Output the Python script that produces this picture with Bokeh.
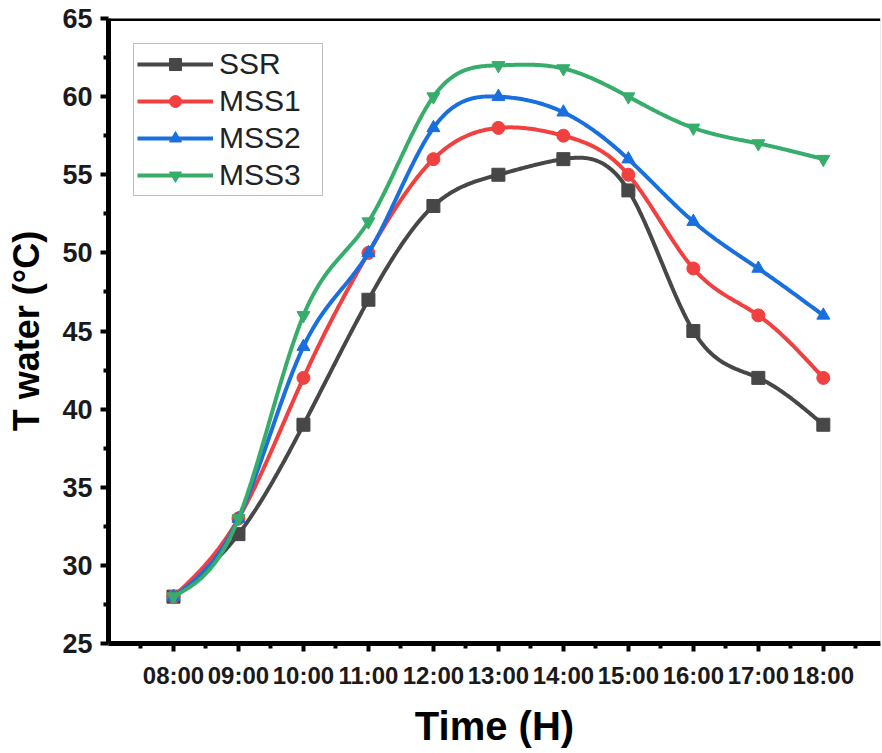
import numpy as np
from bokeh.plotting import figure
from bokeh.models import (FixedTicker, Span, Legend, LegendItem, Range1d)
from bokeh.embed import file_html
from bokeh.resources import INLINE

# ---- data ----
times = ["08:00", "09:00", "10:00", "11:00", "12:00", "13:00",
         "14:00", "15:00", "16:00", "17:00", "18:00"]
ssr = [28, 32, 39, 47, 53, 55, 56, 54, 45, 42, 39]
mss1 = [28, 33, 42, 50, 56, 58, 57.5, 55, 49, 46, 42]
mss2 = [28, 33, 44, 50, 58, 60, 59, 56, 52, 49, 46]
mss3 = [28, 33, 46, 52, 60, 62, 61.8, 60, 58, 57, 56]
y_ticks = [25, 30, 35, 40, 45, 50, 55, 60, 65]

series = [
    ("SSR", ssr, "#474747", "square"),
    ("MSS1", mss1, "#F14040", "circle"),
    ("MSS2", mss2, "#1A6FDF", "triangle"),
    ("MSS3", mss3, "#37AD6B", "inverted_triangle"),
]


def natural_spline(x, y, n=40):
    x = np.asarray(x, float)
    y = np.asarray(y, float)
    k = len(x)
    h = np.diff(x)
    A = np.zeros((k, k))
    b = np.zeros(k)
    A[0, 0] = 1
    A[-1, -1] = 1
    for i in range(1, k - 1):
        A[i, i - 1] = h[i - 1]
        A[i, i] = 2 * (h[i - 1] + h[i])
        A[i, i + 1] = h[i]
        b[i] = 6 * ((y[i + 1] - y[i]) / h[i] - (y[i] - y[i - 1]) / h[i - 1])
    M = np.linalg.solve(A, b)
    xs, ys = [], []
    for i in range(k - 1):
        t = np.linspace(x[i], x[i + 1], n, endpoint=(i == k - 2))
        a = x[i + 1] - t
        c = t - x[i]
        s = (M[i] * a ** 3 + M[i + 1] * c ** 3) / (6 * h[i]) \
            + (y[i] / h[i] - M[i] * h[i] / 6) * a \
            + (y[i + 1] / h[i] - M[i + 1] * h[i] / 6) * c
        xs.extend(t)
        ys.extend(s)
    return xs, ys


xpos = list(range(len(times)))
x_start, x_end = -1, 10.88
y_min, y_max = y_ticks[0], y_ticks[-1]

p = figure(frame_width=772, frame_height=625,
           x_range=Range1d(x_start, x_end), y_range=Range1d(y_min, y_max),
           output_backend="svg", toolbar_location=None,
           min_border_left=108, min_border_top=18, min_border_right=2,
           min_border_bottom=110)
p.outline_line_color = None
p.xgrid.visible = False
p.ygrid.visible = False
p.background_fill_color = "white"

FONT = "Liberation Sans"

# axes
for ax in (p.xaxis[0], p.yaxis[0]):
    ax.axis_line_width = 5
    ax.axis_line_color = "black"
    ax.major_tick_line_width = 4
    ax.major_tick_in = 0
    ax.major_tick_out = 8
    ax.minor_tick_line_width = 4
    ax.minor_tick_in = 0
    ax.minor_tick_out = 5
    ax.major_label_text_font = FONT
    ax.major_label_text_font_style = "bold"
    ax.major_label_text_color = "#1a1a1a"
    ax.axis_label_text_font = FONT
    ax.axis_label_text_font_style = "bold"
    ax.axis_label_text_color = "black"

p.xaxis.ticker = FixedTicker(ticks=xpos,
                             minor_ticks=[i - 0.5 for i in range(len(times) + 1)])
p.xaxis.major_label_overrides = {i: t for i, t in enumerate(times)}
p.xaxis.major_label_text_font_size = "24px"
p.xaxis.major_label_standoff = 10
p.xaxis.axis_label = "Time (H)"
p.xaxis.axis_label_text_font_size = "40px"
p.xaxis.axis_label_standoff = 12

p.yaxis.ticker = FixedTicker(ticks=y_ticks,
                             minor_ticks=[v + 2.5 for v in y_ticks[:-1]])
p.yaxis.major_label_text_font_size = "27px"
p.yaxis.major_label_standoff = 8
p.yaxis.axis_label = "T water (°C)"
p.yaxis.axis_label_text_font_size = "36px"
p.yaxis.axis_label_standoff = 12

# top and right frame borders
p.add_layout(Span(location=y_max, dimension="width", line_color="black", line_width=5))
p.add_layout(Span(location=x_end, dimension="height", line_color="#d8d8d8", line_width=1))

items = []
for name, vals, color, marker in series:
    sx, sy = natural_spline(xpos, vals)
    ln = p.line(sx, sy, line_color=color, line_width=4)
    sc = p.scatter(xpos, vals, marker=marker, size=13, fill_color=color,
                   line_color=color)
    items.append(LegendItem(label=name, renderers=[ln, sc]))

legend = Legend(items=items, location="top_left", margin=25, padding=3,
                spacing=3, glyph_width=76, glyph_height=30, label_height=30,
                label_width=100, label_standoff=6, label_text_font=FONT,
                label_text_font_size="30px", label_text_color="#222222",
                border_line_color="#808080", border_line_width=1,
                background_fill_alpha=1.0)
p.add_layout(legend)

open("out.html", "w").write(file_html(p, INLINE))
